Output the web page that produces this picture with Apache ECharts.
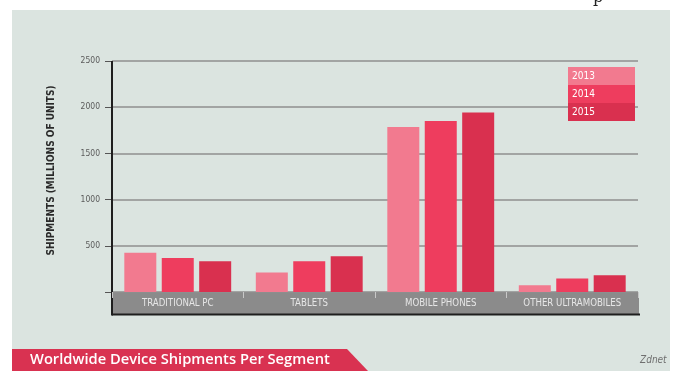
<!DOCTYPE html>
<html>
<head>
<meta charset="utf-8">
<script src="https://cdn.jsdelivr.net/npm/echarts@6/dist/echarts.min.js"></script>
<style>
  html, body { margin: 0; padding: 0; background: #ffffff; }
  #chart { width: 673px; height: 371px; }
</style>
</head>
<body>
<div id="chart"></div>
<script>
// Shipment figures in millions of units
const categories = ['TRADITIONAL PC', 'TABLETS', 'MOBILE PHONES', 'OTHER ULTRAMOBILES'];
const years = ['2013', '2014', '2015'];
const shipments2013 = [426, 210, 1786, 72];
const shipments2014 = [368, 332, 1851, 145];
const shipments2015 = [332, 386, 1942, 181];
const yTicks = [0, 500, 1000, 1500, 2000, 2500];

const yearColors = ['#f27a8f', '#ee3d5e', '#d9304f'];
const seriesValues = [shipments2013, shipments2014, shipments2015];

const gridLeft = 112, gridTop = 61, gridWidth = 526, gridHeight = 231;

const chart = echarts.init(document.getElementById('chart'), null, { renderer: 'canvas' });

const option = {
  animation: false,
  backgroundColor: '#ffffff',
  graphic: [
    // panel background
    { type: 'rect', z: -10, shape: { x: 12, y: 10, width: 658, height: 361 }, style: { fill: '#dbe4e0' } },
    // grey category band under the plot
    { type: 'rect', z: -5, shape: { x: gridLeft, y: gridTop + gridHeight, width: gridWidth + 1, height: 22 }, style: { fill: '#8b8b8b' } },
    // frame line below the band and left rule running down to it
    { type: 'line', z: 5, shape: { x1: gridLeft, y1: 314.5, x2: gridLeft + gridWidth + 2, y2: 314.5 }, style: { stroke: '#1e1e1e', lineWidth: 2 } },
    { type: 'line', z: 5, shape: { x1: gridLeft, y1: gridTop, x2: gridLeft, y2: 315.5 }, style: { stroke: '#1e1e1e', lineWidth: 2 } },
    // title banner
    { type: 'polygon', z: 5, shape: { points: [[12, 349], [347, 349], [368, 371], [12, 371]] }, style: { fill: '#d93251' } },
    { type: 'text', z: 6, left: 30, top: 352, style: { text: 'Worldwide Device Shipments Per Segment', fill: '#ffffff', font: '600 14.7px "Open Sans"' } },
    // source credit
    { type: 'text', z: 6, left: 640, top: 355, style: { text: 'Zdnet', fill: '#6f6f6f', font: 'italic 10px "DejaVu Sans Condensed"' } },
    // clipped heading fragment along the top edge
    { type: 'text', z: 6, left: 593, top: -10, style: { text: 'p', fill: '#222222', font: '16px "DejaVu Serif"' } }
  ],
  legend: {
    orient: 'vertical',
    left: 563,
    top: 67,
    padding: 0,
    itemWidth: 0,
    itemHeight: 0,
    itemGap: 0,
    icon: 'rect',
    selectedMode: false,
    data: years.map((y, i) => ({
      name: y,
      itemStyle: { opacity: 0 },
      textStyle: {
        backgroundColor: yearColors[i],
        color: '#ffffff',
        fontFamily: 'DejaVu Sans Condensed',
        fontSize: 10,
        width: 59,
        height: 18,
        lineHeight: 18,
        padding: [0, 4]
      }
    }))
  },
  grid: { left: gridLeft, top: gridTop, width: gridWidth, height: gridHeight, containLabel: false },
  xAxis: {
    type: 'category',
    data: categories,
    z: 10,
    axisLine: { show: false },
    axisTick: { show: true, interval: 0, length: 6, lineStyle: { color: '#c8c8c8', width: 1 } },
    axisLabel: {
      interval: 0,
      hideOverlap: false,
      margin: 6,
      color: '#e6e6e6',
      fontFamily: 'DejaVu Sans Condensed',
      fontSize: 9.6
    },
    splitLine: { show: false }
  },
  yAxis: {
    type: 'value',
    min: yTicks[0],
    max: yTicks[yTicks.length - 1],
    interval: yTicks[1] - yTicks[0],
    name: 'SHIPMENTS (MILLIONS OF UNITS)',
    nameLocation: 'middle',
    nameRotate: 90,
    nameGap: 56,
    nameTextStyle: {
      color: '#2a2a2a',
      fontFamily: 'DejaVu Sans Condensed',
      fontWeight: 'bold',
      fontSize: 10,
      padding: [0, 0, 0, 12]
    },
    axisLine: { show: false },
    axisTick: { show: true, length: 7, lineStyle: { color: '#555555', width: 1 } },
    axisLabel: {
      margin: 12,
      color: '#5a5a5a',
      fontFamily: 'DejaVu Sans Condensed',
      fontSize: 8.5,
      formatter: v => (v === 0 ? '' : String(v))
    },
    splitLine: { show: true, lineStyle: { color: '#8f8f8f', width: 1.5 } }
  },
  series: years.map((y, i) => ({
    name: y,
    type: 'bar',
    data: seriesValues[i],
    barWidth: 32,
    barGap: '17%',
    itemStyle: { color: yearColors[i] }
  }))
};

chart.setOption(option);
</script>
</body>
</html>
